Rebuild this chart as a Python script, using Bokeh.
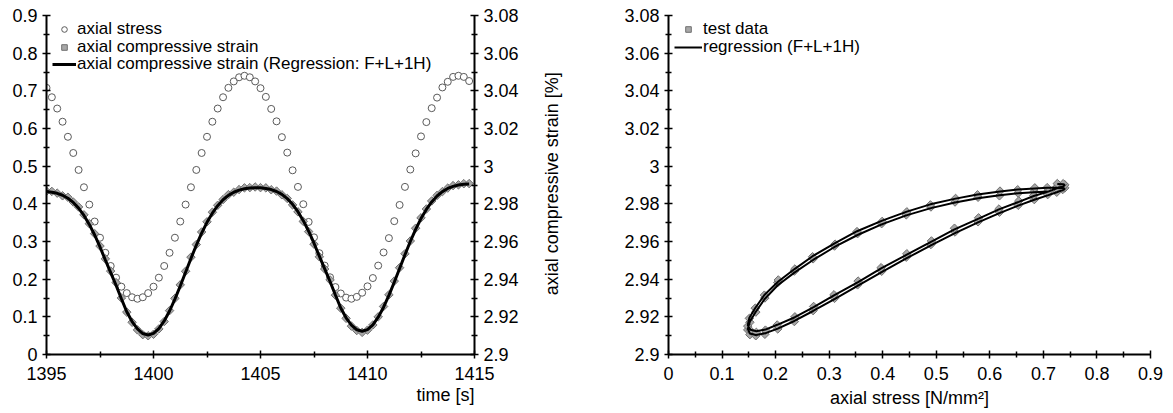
import math
from bokeh.plotting import figure
from bokeh.models import Range1d, LinearAxis, FixedTicker, Legend, LegendItem, Label, Title
from bokeh.layouts import row
from bokeh.embed import file_html
from bokeh.resources import INLINE

# ---------------- data ----------------
time_s = [
    1395.0, 1395.25, 1395.5, 1395.75, 1396.0, 1396.25, 1396.5, 1396.75,
    1397.0, 1397.25, 1397.5, 1397.75, 1398.0, 1398.25, 1398.5, 1398.75,
    1399.0, 1399.25, 1399.5, 1399.75, 1400.0, 1400.25, 1400.5, 1400.75,
    1401.0, 1401.25, 1401.5, 1401.75, 1402.0, 1402.25, 1402.5, 1402.75,
    1403.0, 1403.25, 1403.5, 1403.75, 1404.0, 1404.25, 1404.5, 1404.75,
    1405.0, 1405.25, 1405.5, 1405.75, 1406.0, 1406.25, 1406.5, 1406.75,
    1407.0, 1407.25, 1407.5, 1407.75, 1408.0, 1408.25, 1408.5, 1408.75,
    1409.0, 1409.25, 1409.5, 1409.75, 1410.0, 1410.25, 1410.5, 1410.75,
    1411.0, 1411.25, 1411.5, 1411.75, 1412.0, 1412.25, 1412.5, 1412.75,
    1413.0, 1413.25, 1413.5, 1413.75, 1414.0, 1414.25, 1414.5, 1414.75]

axial_stress = [
    0.708, 0.683, 0.653, 0.618, 0.578, 0.535, 0.490, 0.444,
    0.398, 0.353, 0.310, 0.270, 0.235, 0.204, 0.180, 0.163,
    0.152, 0.148, 0.152, 0.163, 0.180, 0.204, 0.235, 0.270,
    0.310, 0.353, 0.398, 0.444, 0.490, 0.535, 0.578, 0.618,
    0.653, 0.683, 0.708, 0.725, 0.736, 0.740, 0.736, 0.725,
    0.707, 0.684, 0.652, 0.619, 0.577, 0.536, 0.489, 0.445,
    0.399, 0.352, 0.311, 0.269, 0.236, 0.205, 0.179, 0.162,
    0.151, 0.148, 0.153, 0.164, 0.181, 0.203, 0.236, 0.271,
    0.309, 0.354, 0.397, 0.445, 0.491, 0.534, 0.579, 0.617,
    0.654, 0.682, 0.709, 0.724, 0.737, 0.740, 0.737, 0.726]

strain_data = [
    2.98670, 2.98659, 2.98568, 2.98426, 2.98349, 2.98096, 2.97833, 2.97415,
    2.96947, 2.96415, 2.95759, 2.95079, 2.94429, 2.93818, 2.93001, 2.92250,
    2.91710, 2.91307, 2.91054, 2.90995, 2.91074, 2.91357, 2.91750, 2.92330,
    2.92981, 2.93698, 2.94419, 2.95169, 2.95839, 2.96505, 2.97047, 2.97555,
    2.97923, 2.98226, 2.98489, 2.98616, 2.98758, 2.98849, 2.98860, 2.98895,
    2.98860, 2.98849, 2.98748, 2.98676, 2.98479, 2.98286, 2.97943, 2.97575,
    2.97067, 2.96525, 2.95859, 2.95189, 2.94539, 2.93958, 2.93151, 2.92460,
    2.91920, 2.91507, 2.91274, 2.91175, 2.91294, 2.91567, 2.92000, 2.92550,
    2.93171, 2.93898, 2.94609, 2.95349, 2.96029, 2.96705, 2.97257, 2.97725,
    2.98153, 2.98446, 2.98649, 2.98836, 2.98968, 2.99009, 2.99070, 2.99075]

strain_fit = [
    2.98650, 2.98619, 2.98558, 2.98456, 2.98299, 2.98076, 2.97773, 2.97385,
    2.96907, 2.96345, 2.95709, 2.95019, 2.94349, 2.93678, 2.92961, 2.92270,
    2.91750, 2.91357, 2.91114, 2.91035, 2.91124, 2.91377, 2.91780, 2.92310,
    2.92941, 2.93638, 2.94369, 2.95099, 2.95799, 2.96445, 2.97017, 2.97505,
    2.97903, 2.98216, 2.98449, 2.98616, 2.98728, 2.98799, 2.98840, 2.98855,
    2.98850, 2.98819, 2.98758, 2.98656, 2.98499, 2.98276, 2.97973, 2.97585,
    2.97107, 2.96545, 2.95909, 2.95219, 2.94549, 2.93878, 2.93161, 2.92470,
    2.91950, 2.91557, 2.91314, 2.91235, 2.91324, 2.91577, 2.91980, 2.92510,
    2.93141, 2.93838, 2.94569, 2.95299, 2.95999, 2.96645, 2.97217, 2.97705,
    2.98103, 2.98416, 2.98649, 2.98816, 2.98928, 2.98999, 2.99040, 2.99055]

time_ticks = [1395, 1400, 1405, 1410, 1415]
time_tick_labels = ["1395", "1400", "1405", "1410", "1415"]
stress_ticks = [0, 0.1, 0.2, 0.3, 0.4, 0.5, 0.6, 0.7, 0.8, 0.9]
stress_tick_labels = ["0", "0.1", "0.2", "0.3", "0.4", "0.5", "0.6", "0.7", "0.8", "0.9"]
strain_ticks = [2.9, 2.92, 2.94, 2.96, 2.98, 3.0, 3.02, 3.04, 3.06, 3.08]
strain_tick_labels = ["2.9", "2.92", "2.94", "2.96", "2.98", "3", "3.02", "3.04", "3.06", "3.08"]

legend_left = ["axial stress", "axial compressive strain",
               "axial compressive strain (Regression: F+L+1H)"]
legend_right = ["test data", "regression (F+L+1H)"]
title_time = "time [s]"
title_strain = "axial compressive strain [%]"
title_stress = "axial stress [N/mm\u00b2]"

# ---------------- style ----------------
FONT = "Liberation Sans"
FS_TICK = "18px"
FS_TITLE = "18px"
FS_LEG = "17px"
CIRCLE_LINE = "#5a5a5a"
DIA_FILL = "#a8a8a8"
DIA_LINE = "#707070"
H = 413


def mids(t):
    return [(a + b) / 2 for a, b in zip(t[:-1], t[1:])]


def style_axis(ax, ticks, labels, horizontal):
    ax.ticker = FixedTicker(ticks=ticks, minor_ticks=mids(ticks))
    ax.major_label_overrides = {t: l for t, l in zip(ticks, labels)}
    ax.axis_line_width = 2
    ax.axis_line_color = "black"
    ax.major_tick_line_color = "black"
    ax.minor_tick_line_color = "black"
    ax.major_tick_line_width = 1.5
    ax.minor_tick_line_width = 1.5
    ax.major_tick_in = 4
    ax.major_tick_out = 4
    ax.minor_tick_in = 3
    ax.minor_tick_out = 3
    ax.major_label_text_font = FONT
    ax.major_label_text_font_size = FS_TICK
    ax.major_label_text_color = "black"
    ax.major_label_standoff = 8 if horizontal else 5
    ax.axis_label_text_font = FONT
    ax.axis_label_text_font_size = FS_TITLE
    ax.axis_label_text_font_style = "normal"
    ax.axis_label_text_color = "black"
    ax.axis_label_standoff = 5


def add_legend_row(p, text, renderer, vx, vy, glyph_w):
    lg = Legend(items=[LegendItem(label=text, renderers=[renderer])], location=(vx, vy))
    lg.border_line_color = None
    lg.background_fill_alpha = 0
    lg.label_text_font = FONT
    lg.label_text_font_size = FS_LEG
    lg.label_text_color = "black"
    lg.glyph_width = glyph_w
    lg.glyph_height = 14
    lg.label_height = 14
    lg.label_standoff = 1
    lg.padding = 0
    lg.margin = 0
    p.add_layout(lg)


# ---------------- left figure ----------------
p1 = figure(width=536, height=H, x_range=Range1d(1395, 1415), y_range=Range1d(0, 0.9),
            output_backend="svg", toolbar_location=None,
            min_border_left=46, min_border_right=62, min_border_top=15, min_border_bottom=59)
p1.extra_y_ranges = {"strain": Range1d(2.9, 3.08)}
p1.grid.visible = False
p1.outline_line_color = None
style_axis(p1.xaxis[0], time_ticks, time_tick_labels, True)
style_axis(p1.yaxis[0], stress_ticks, stress_tick_labels, False)
ax_r = LinearAxis(y_range_name="strain")
style_axis(ax_r, strain_ticks, strain_tick_labels, False)
p1.add_layout(ax_r, "right")
p1.add_layout(Title(text=title_time, align="right", text_font=FONT, text_font_size=FS_TITLE,
                    text_font_style="normal", text_color="black", standoff=5,
                    vertical_align="top", offset=0), "below")

r_circ = p1.scatter(time_s, axial_stress, marker="circle", size=7,
                    fill_color="white", line_color=CIRCLE_LINE, line_width=1)
r_dia = p1.scatter(time_s, strain_data, marker="square", angle=math.pi / 4, size=6,
                   fill_color=DIA_FILL, line_color=DIA_LINE, line_width=1,
                   y_range_name="strain")
r_fit = p1.line(time_s, strain_fit, line_width=3, line_color="black",
                y_range_name="strain")

for txt, rr, vy in zip(legend_left, [r_circ, r_dia, r_fit], [315, 297.5, 280]):
    add_legend_row(p1, txt, rr, 6, vy, 24)

# ---------------- spacer with the rotated right-axis title ----------------
ps = figure(width=32, height=H, x_range=Range1d(0, 32), y_range=Range1d(0, H),
            output_backend="svg", toolbar_location=None,
            x_axis_location=None, y_axis_location=None,
            min_border=0, min_border_left=0, min_border_right=0,
            min_border_top=0, min_border_bottom=0)
ps.grid.visible = False
ps.outline_line_color = None
ps.add_layout(Label(x=15, y=208, text=title_strain, angle=math.pi / 2,
                    text_align="center", text_baseline="middle",
                    text_font=FONT, text_font_size=FS_TITLE, text_color="black"))

# ---------------- right figure ----------------
p2 = figure(width=597, height=H, x_range=Range1d(0, 0.9), y_range=Range1d(2.9, 3.08),
            output_backend="svg", toolbar_location=None,
            min_border_left=100, min_border_right=15, min_border_top=15, min_border_bottom=59)
p2.grid.visible = False
p2.outline_line_color = None
style_axis(p2.xaxis[0], stress_ticks, stress_tick_labels, True)
style_axis(p2.yaxis[0], strain_ticks, strain_tick_labels, False)
p2.xaxis[0].axis_label = title_stress

r2_dia = p2.scatter(axial_stress, strain_data, marker="square", angle=math.pi / 4, size=6,
                    fill_color=DIA_FILL, line_color=DIA_LINE, line_width=1)
r2_fit = p2.line(axial_stress, strain_fit, line_width=2, line_color="black")

for txt, rr, vy in zip(legend_right, [r2_dia, r2_fit], [315, 297]):
    add_legend_row(p2, txt, rr, 6, vy, 28)

layout = row(p1, ps, p2)
open("out.html", "w").write(file_html(layout, INLINE))
